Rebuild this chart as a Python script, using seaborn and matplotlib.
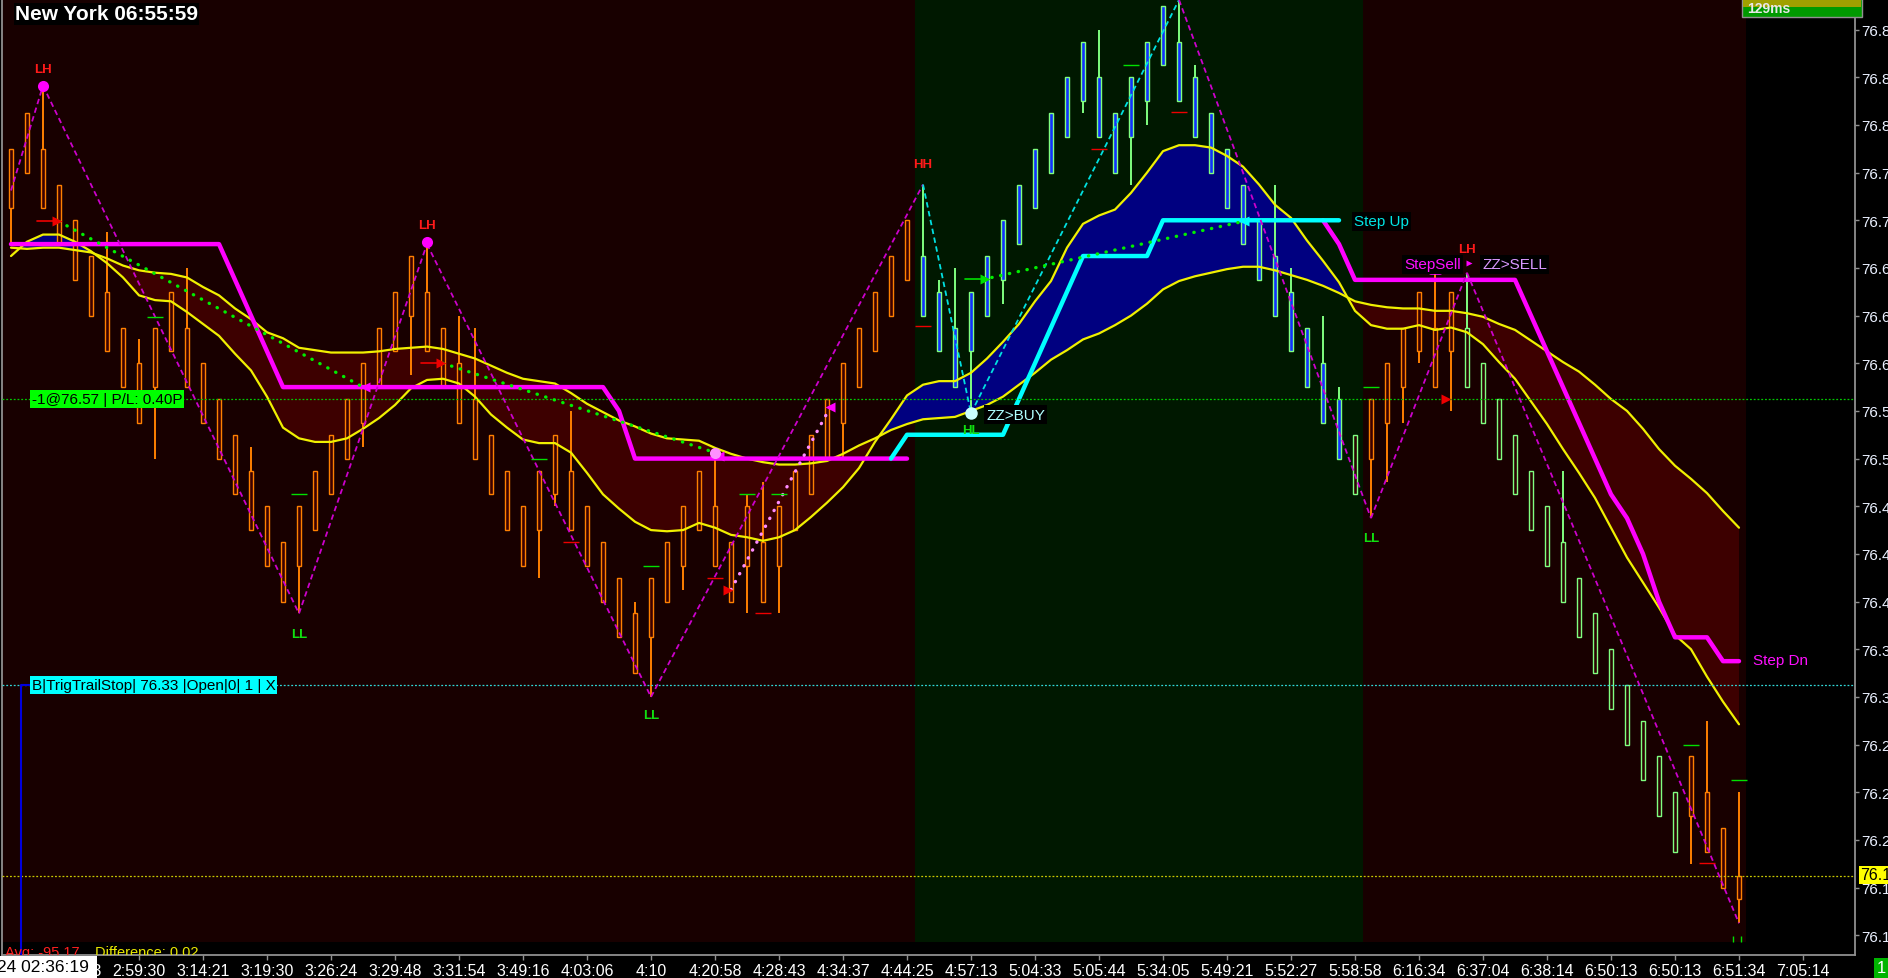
import numpy as np
import pandas as pd
import seaborn as sns
import matplotlib.pyplot as plt
from matplotlib.patches import Rectangle

nan = np.nan
W, H = 1888, 979

# ---------------- data ----------------
bars = list(range(109))

box_top = [76.78, 76.81, 76.78, 76.75, 76.72, 76.69, 76.66, 76.63, 76.60, 76.63,
           76.66, 76.63, 76.60, 76.57, 76.54, 76.51, 76.48, 76.45, 76.48, 76.51,
           76.54, 76.57, 76.60, 76.63, 76.66, 76.69, 76.66, 76.63, 76.60, 76.57,
           76.54, 76.51, 76.48, 76.51, 76.54, 76.51, 76.48, 76.45, 76.42, 76.39,
           76.42, 76.45, 76.48, 76.51, 76.48, 76.45, 76.48, 76.45, 76.48, 76.51,
           76.54, 76.57, 76.60, 76.63, 76.66, 76.69, 76.72, 76.69, 76.66, 76.63,
           76.66, 76.69, 76.72, 76.75, 76.78, 76.81, 76.84, 76.87, 76.84, 76.81,
           76.84, 76.87, 76.90, 76.87, 76.84, 76.81, 76.78, 76.75, 76.72, 76.69,
           76.66, 76.63, 76.60, 76.57, 76.54, 76.57, 76.60, 76.63, 76.66, 76.63,
           76.66, 76.63, 76.60, 76.57, 76.54, 76.51, 76.48, 76.45, 76.42, 76.39,
           76.36, 76.33, 76.30, 76.27, 76.24, 76.27, 76.24, 76.21, 76.17]
box_bottom = [76.73, 76.76, 76.73, 76.70, 76.67, 76.64, 76.61, 76.58, 76.55, 76.58,
              76.61, 76.58, 76.55, 76.52, 76.49, 76.46, 76.43, 76.40, 76.43, 76.46,
              76.49, 76.52, 76.55, 76.58, 76.61, 76.64, 76.61, 76.58, 76.55, 76.52,
              76.49, 76.46, 76.43, 76.46, 76.49, 76.46, 76.43, 76.40, 76.37, 76.34,
              76.37, 76.40, 76.43, 76.46, 76.43, 76.40, 76.43, 76.40, 76.43, 76.46,
              76.49, 76.52, 76.55, 76.58, 76.61, 76.64, 76.67, 76.64, 76.61, 76.58,
              76.61, 76.64, 76.67, 76.70, 76.73, 76.76, 76.79, 76.82, 76.79, 76.76,
              76.79, 76.82, 76.85, 76.82, 76.79, 76.76, 76.73, 76.70, 76.67, 76.64,
              76.61, 76.58, 76.55, 76.52, 76.49, 76.52, 76.55, 76.58, 76.61, 76.58,
              76.61, 76.58, 76.55, 76.52, 76.49, 76.46, 76.43, 76.40, 76.37, 76.34,
              76.31, 76.28, 76.25, 76.22, 76.19, 76.22, 76.19, 76.16, 76.15]
wick_high = [76.78, 76.81, 76.83, 76.75, 76.72, 76.69, 76.71, 76.63, 76.62, 76.63,
             76.66, 76.68, 76.60, 76.57, 76.54, 76.53, 76.48, 76.45, 76.48, 76.51,
             76.54, 76.57, 76.60, 76.63, 76.66, 76.69, 76.70, 76.63, 76.64, 76.63,
             76.54, 76.51, 76.48, 76.51, 76.54, 76.56, 76.48, 76.45, 76.42, 76.40,
             76.42, 76.45, 76.48, 76.51, 76.525, 76.45, 76.49, 76.50, 76.48, 76.51,
             76.54, 76.57, 76.60, 76.63, 76.66, 76.69, 76.72, 76.75, 76.67, 76.68,
             76.66, 76.69, 76.72, 76.75, 76.78, 76.81, 76.84, 76.87, 76.88, 76.81,
             76.84, 76.87, 76.90, 76.905, 76.85, 76.81, 76.78, 76.75, 76.72, 76.75,
             76.68, 76.63, 76.64, 76.58, 76.54, 76.57, 76.60, 76.63, 76.66, 76.675,
             76.66, 76.676, 76.60, 76.57, 76.54, 76.51, 76.48, 76.51, 76.42, 76.39,
             76.36, 76.33, 76.30, 76.27, 76.24, 76.27, 76.30, 76.21, 76.24]
wick_low = [76.70, 76.76, 76.73, 76.70, 76.67, 76.64, 76.61, 76.58, 76.55, 76.52,
            76.61, 76.58, 76.55, 76.52, 76.49, 76.46, 76.43, 76.40, 76.39, 76.46,
            76.49, 76.52, 76.53, 76.58, 76.61, 76.59, 76.61, 76.58, 76.55, 76.52,
            76.49, 76.46, 76.43, 76.42, 76.48, 76.46, 76.43, 76.40, 76.37, 76.34,
            76.32, 76.40, 76.41, 76.46, 76.43, 76.40, 76.39, 76.40, 76.39, 76.46,
            76.49, 76.52, 76.52, 76.58, 76.61, 76.64, 76.67, 76.64, 76.61, 76.58,
            76.56, 76.64, 76.65, 76.70, 76.73, 76.76, 76.79, 76.81, 76.79, 76.76,
            76.75, 76.80, 76.85, 76.82, 76.79, 76.76, 76.73, 76.70, 76.67, 76.64,
            76.61, 76.58, 76.55, 76.52, 76.49, 76.47, 76.50, 76.55, 76.60, 76.58,
            76.56, 76.58, 76.55, 76.52, 76.49, 76.46, 76.43, 76.40, 76.37, 76.34,
            76.31, 76.28, 76.25, 76.22, 76.19, 76.18, 76.19, 76.16, 76.13]
# o = orange, b = blue (up regime), g = green hollow
bar_kind = list('o' * 57 + 'b' * 27 + 'g' + 'o' * 6 + 'g' * 14 + 'o' * 4)

band_fast = [76.690, 76.702, 76.708, 76.708, 76.702, 76.694, 76.684, 76.672, 76.657, 76.653,
             76.652, 76.643, 76.633, 76.623, 76.608, 76.594, 76.572, 76.546, 76.537, 76.534,
             76.534, 76.537, 76.545, 76.554, 76.565, 76.579, 76.586, 76.587, 76.583, 76.572,
             76.557, 76.546, 76.536, 76.533, 76.533, 76.525, 76.508, 76.490, 76.478, 76.467,
             76.460, 76.459, 76.460, 76.466, 76.462, 76.456, 76.454, 76.451, 76.454, 76.460,
             76.471, 76.483, 76.496, 76.512, 76.534, 76.553, 76.573, 76.582, 76.585, 76.585,
             76.592, 76.604, 76.618, 76.633, 76.652, 76.669, 76.697, 76.717, 76.724, 76.729,
             76.743, 76.760, 76.778, 76.783, 76.783, 76.781, 76.774, 76.765, 76.750, 76.733,
             76.722, 76.703, 76.686, 76.668, 76.644, 76.632, 76.629, 76.629, 76.632, 76.628,
             76.630, 76.626, 76.616, 76.601, 76.587, 76.568, 76.549, 76.528, 76.508, 76.487,
             76.462, 76.437, 76.416, 76.395, 76.372, 76.360, 76.337, 76.316, 76.297]
band_slow = [76.697, 76.696, 76.697, 76.697, 76.695, 76.693, 76.688, 76.682, 76.678, 76.676,
             76.675, 76.672, 76.664, 76.657, 76.646, 76.637, 76.626, 76.621, 76.613, 76.611,
             76.609, 76.609, 76.609, 76.610, 76.612, 76.613, 76.614, 76.612, 76.608, 76.604,
             76.598, 76.592, 76.587, 76.585, 76.583, 76.575, 76.566, 76.559, 76.552, 76.547,
             76.541, 76.537, 76.536, 76.535, 76.529, 76.524, 76.520, 76.517, 76.515, 76.515,
             76.516, 76.518, 76.524, 76.531, 76.537, 76.544, 76.549, 76.553, 76.554, 76.555,
             76.560, 76.565, 76.572, 76.582, 76.592, 76.603, 76.611, 76.620, 76.625, 76.632,
             76.640, 76.650, 76.662, 76.669, 76.673, 76.676, 76.679, 76.681, 76.681, 76.678,
             76.674, 76.670, 76.665, 76.659, 76.652, 76.649, 76.647, 76.646, 76.646, 76.644,
             76.644, 76.642, 76.639, 76.633, 76.628, 76.619, 76.610, 76.601, 76.593, 76.582,
             76.570, 76.560, 76.545, 76.528, 76.514, 76.503, 76.491, 76.476, 76.462]

step_dn = [76.70, 76.70, 76.70, 76.70, 76.70, 76.70, 76.70, 76.70, 76.70, 76.70,
           76.70, 76.70, 76.70, 76.70, 76.67, 76.64, 76.61, 76.58, 76.58, 76.58,
           76.58, 76.58, 76.58, 76.58, 76.58, 76.58, 76.58, 76.58, 76.58, 76.58,
           76.58, 76.58, 76.58, 76.58, 76.58, 76.58, 76.58, 76.58, 76.56, 76.52,
           76.52, 76.52, 76.52, 76.52, 76.52, 76.52, 76.52, 76.52, 76.52, 76.52,
           76.52, 76.52, 76.52, 76.52, 76.52, 76.52, 76.52, nan, nan, nan,
           nan, nan, nan, nan, nan, nan, nan, nan, nan, nan,
           nan, nan, nan, nan, nan, nan, nan, nan, nan, nan,
           nan, nan, 76.72, 76.70, 76.67, 76.67, 76.67, 76.67, 76.67, 76.67,
           76.67, 76.67, 76.67, 76.67, 76.67, 76.64, 76.61, 76.58, 76.55, 76.52,
           76.49, 76.47, 76.44, 76.40, 76.37, 76.37, 76.37, 76.35, 76.35]
step_up = [nan, nan, nan, nan, nan, nan, nan, nan, nan, nan,
           nan, nan, nan, nan, nan, nan, nan, nan, nan, nan,
           nan, nan, nan, nan, nan, nan, nan, nan, nan, nan,
           nan, nan, nan, nan, nan, nan, nan, nan, nan, nan,
           nan, nan, nan, nan, nan, nan, nan, nan, nan, nan,
           nan, nan, nan, nan, nan, 76.52, 76.54, 76.54, 76.54, 76.54,
           76.54, 76.54, 76.54, 76.57, 76.60, 76.63, 76.66, 76.69, 76.69, 76.69,
           76.69, 76.69, 76.72, 76.72, 76.72, 76.72, 76.72, 76.72, 76.72, 76.72,
           76.72, 76.72, 76.72, 76.72, nan, nan, nan, nan, nan, nan,
           nan, nan, nan, nan, nan, nan, nan, nan, nan, nan,
           nan, nan, nan, nan, nan, nan, nan, nan, nan]

# zigzag swing points
zz_bar = [0, 2, 18, 26, 40, 57, 60, 73, 85, 91, 108]
zz_price = [76.745, 76.833, 76.39, 76.70, 76.32, 76.75, 76.558, 76.905, 76.47, 76.676, 76.13]
zz_seg_kind = ['m', 'm', 'm', 'm', 'm', 'c', 'c', 'm', 'm', 'm']
swing_label = ['LH', 'LL', 'LH', 'LL', 'HH', 'HL', 'LL', 'LH']
swing_label_bar = [2, 18, 26, 40, 57, 60, 85, 91]
swing_label_price = [76.847, 76.373, 76.716, 76.305, 76.767, 76.544, 76.453, 76.696]

# dotted trend lines
green_trends = [([3, 22], [76.719, 76.58]), ([27, 44], [76.60, 76.525]), ([61.3, 77], [76.672, 76.719])]
pink_trend = ([45, 51.2], [76.41, 76.563])

# small level dashes
green_dash_bar = [9, 18, 33, 40, 46, 48, 70, 85, 105, 108]
green_dash_price = [76.639, 76.490, 76.520, 76.430, 76.490, 76.490, 76.850, 76.580, 76.280, 76.250]
red_dash_bar = [35, 44, 47, 57, 68, 73, 106]
red_dash_price = [76.450, 76.420, 76.390, 76.631, 76.780, 76.811, 76.181]

# red entry arrows (line from -> to, triangle at to)
arrow_from = [1.6, 25.6, 44.8, 89.7]
arrow_to = [2.9, 26.9, 44.8, 89.7]
arrow_price = [76.719, 76.600, 76.410, 76.570]
left_tri_bar = [22.1, 44.25, 51.2, 77.05]
left_tri_price = [76.580, 76.522, 76.563, 76.719]
left_tri_color = ['#ff00ff', '#ff00ff', '#ff00ff', '#00ffff']

time_ticks = list(range(4, 113, 4))
time_labels = ['2:45:53', '2:59:30', '3:14:21', '3:19:30', '3:26:24', '3:29:48', '3:31:54',
               '3:49:16', '4:03:06', '4:10', '4:20:58', '4:28:43', '4:34:37', '4:44:25',
               '4:57:13', '5:04:33', '5:05:44', '5:34:05', '5:49:21', '5:52:27', '5:58:58',
               '6:16:34', '6:37:04', '6:38:14', '6:50:13', '6:50:13', '6:51:34', '7:05:14']
price_ticks = [76.12, 76.16, 76.20, 76.24, 76.28, 76.32, 76.36, 76.40, 76.44, 76.48,
               76.52, 76.56, 76.60, 76.64, 76.68, 76.72, 76.76, 76.80, 76.84, 76.88]

# ---------------- drawing ----------------
sns.set_style('dark', {'axes.facecolor': 'black', 'figure.facecolor': 'black'})
plt.rcParams['font.family'] = ['Liberation Sans', 'DejaVu Sans']

fig = plt.figure(figsize=(W / 100, H / 100), dpi=100)
fig.patch.set_facecolor('black')
ax = fig.add_axes([2 / W, 23 / H, 1853 / W, 956 / H])
ax.set_facecolor('black')

# regime backgrounds
for x0, x1, col in [(-0.6, 56.5, '#180000'), (56.5, 84.5, '#001800'), (84.5, 108.45, '#180000')]:
    ax.axvspan(x0, x1, ymin=13 / 956, ymax=1, color=col, lw=0, zorder=0)

fast = np.array(band_fast)
slow = np.array(band_slow)
ax.fill_between(bars, fast, slow, where=fast >= slow, interpolate=True, color='#000080', lw=0, zorder=1)
ax.fill_between(bars, fast, slow, where=fast < slow, interpolate=True, color='#3d0000', lw=0, zorder=1)

# candles
face = {'o': '#3a0000', 'b': '#1030ff', 'g': '#2a0000'}
edge = {'o': '#ff8000', 'b': '#80ff80', 'g': '#80ff80'}
ax.vlines(bars, wick_low, wick_high, colors=[edge[k] for k in bar_kind], lw=1.4, zorder=3)
ax.bar(bars, np.array(box_top) - np.array(box_bottom), bottom=box_bottom, width=0.24,
       color=[face[k] for k in bar_kind], edgecolor=[edge[k] for k in bar_kind], linewidth=1.0, zorder=3.5)

# yellow bands
bands = pd.DataFrame({'bar': bars, 'fast': band_fast, 'slow': band_slow})
sns.lineplot(data=bands, x='bar', y='fast', ax=ax, color='#f0f000', lw=1.6, estimator=None, zorder=4)
sns.lineplot(data=bands, x='bar', y='slow', ax=ax, color='#f0f000', lw=1.6, estimator=None, zorder=4)

# reference levels
ax.axhline(76.57, color='#00c800', lw=0.9, ls=(0, (1.5, 1.5)), zorder=6)
ax.axhline(76.33, color='#30d8d8', lw=0.9, ls=(0, (1.5, 1.5)), zorder=6)
ax.axhline(76.17, color='#c8c800', lw=0.9, ls=(0, (1.5, 1.5)), zorder=6)

# step lines
ax.plot(bars, step_dn, color='#ff00ff', lw=3.2, zorder=5)
ax.plot(bars, step_up, color='#00ffff', lw=3.2, zorder=5)

# zigzag
for i, k in enumerate(zz_seg_kind):
    ax.plot(zz_bar[i:i + 2], zz_price[i:i + 2], color='#cc00cc' if k == 'm' else '#00e0e0',
            lw=1.3, ls=(0, (3, 2)), zorder=6)

for xs, ys in green_trends:
    ax.plot(xs, ys, color='#00ee00', lw=2.4, ls=(0, (0.1, 2.6)), dash_capstyle='round', zorder=6)
ax.plot(pink_trend[0], pink_trend[1], color='#ff8cff', lw=2.4, ls=(0, (0.1, 2.6)),
        dash_capstyle='round', zorder=6)

ax.hlines(green_dash_price, np.array(green_dash_bar) - 0.5, np.array(green_dash_bar) + 0.5,
          color='#00e000', lw=1.0, zorder=6)
ax.hlines(red_dash_price, np.array(red_dash_bar) - 0.5, np.array(red_dash_bar) + 0.5,
          color='#ee0000', lw=1.0, zorder=6)

for a, b, p in zip(arrow_from, arrow_to, arrow_price):
    ax.plot([a, b], [p, p], color='#ee0000', lw=1.2, zorder=7)
    ax.plot(b, p, '>', color='#ee0000', ms=7, mec='none', zorder=7)
ax.plot([59.6, 60.9], [76.671, 76.671], color='#00e000', lw=1.2, zorder=7)
ax.plot(60.9, 76.671, '>', color='#00e000', ms=7, mec='none', zorder=7)
for b, p, c in zip(left_tri_bar, left_tri_price, left_tri_color):
    ax.plot(b, p, '<', color=c, ms=7, mec='none', zorder=7)

ax.plot([2, 26], [76.833, 76.702], 'o', color='#ff00ff', ms=8, mec='none', zorder=7)
ax.plot(44, 76.525, 'o', color='#ff90ff', ms=8, mec='none', zorder=7)
ax.plot(60, 76.558, 'o', color='#c8ffff', ms=9, mec='none', zorder=7)
ax.plot([88.75, 89.3], [76.677, 76.677], color='#ff00ff', lw=4, zorder=7)
ax.plot(91.1, 76.684, '>', color='#ff00ff', ms=5, mec='none', zorder=7)
ax.plot([107.6, 108.1], [76.117, 76.117], '|', color='#00e000', ms=4, zorder=7)

# blue stop bracket
ax.plot([1.2, 0.6, 0.6], [76.33, 76.33, 76.10], color='#0000dd', lw=1.5, zorder=6)

for lab, b, p in zip(swing_label, swing_label_bar, swing_label_price):
    ax.text(b, p, lab, color='#ff1a1a' if lab.startswith(('LH', 'HH')) else '#10e010',
            fontsize=9.5, fontweight='bold', ha='center', va='center', zorder=8)

box = dict(fc='black', ec='none', pad=1.5)
ax.text(60.95, 76.557, 'ZZ>BUY', color='#b0ffff', fontsize=11, va='center', bbox=box, zorder=8)
ax.text(83.95, 76.719, 'Step Up', color='#00e5e5', fontsize=11, va='center', bbox=box, zorder=8)
ax.text(87.1, 76.683, 'StepSell', color='#ff10ff', fontsize=11, va='center', bbox=box, zorder=8)
ax.text(91.95, 76.683, 'ZZ>SELL', color='#d898ff', fontsize=11, va='center', bbox=box, zorder=8)
ax.text(108.9, 76.351, 'Step Dn', color='#ff10ff', fontsize=11, va='center', zorder=8)
ax.text(1.3, 76.57, '-1@76.57 | P/L: 0.40P', color='black', fontsize=11, va='center',
        bbox=dict(fc='#00ff00', ec='none', pad=1.2), zorder=9)
ax.text(1.3, 76.33, 'B|TrigTrailStop| 76.33 |Open|0| 1 | X', color='black', fontsize=11, va='center',
        bbox=dict(fc='#00ffff', ec='none', pad=1.2), zorder=9)

ax.text(3 / 1853, (956 - 957) / 956, 'Avg: -95.17', color='#ff2020', fontsize=10.5,
        va='baseline', transform=ax.transAxes, clip_on=True, zorder=9)
ax.text(93 / 1853, (956 - 957) / 956, 'Difference: 0.02', color='#e8e800', fontsize=10.5,
        va='baseline', transform=ax.transAxes, clip_on=True, zorder=9)

# axes cosmetics
ax.set_xlim(-0.5625, 115.25)
ax.set_ylim(76.1034, 76.9057)
ax.set_xlabel('')
ax.set_ylabel('')
ax.grid(False)
ax.yaxis.tick_right()
ax.set_yticks(price_ticks)
ax.set_yticklabels([f'{v:.2f}' for v in price_ticks])
ax.set_xticks(time_ticks)
ax.set_xticklabels(time_labels)
ax.tick_params(axis='y', direction='out', length=3, width=1, color='#909090',
               labelcolor='#eaf0ff', labelsize=11, pad=1.5, right=True, left=False)
ax.tick_params(axis='x', direction='out', length=3.5, width=1, color='#909090',
               labelcolor='white', labelsize=11.5, pad=2, bottom=True)
for s in ['right', 'bottom', 'left']:
    ax.spines[s].set_visible(True)
    ax.spines[s].set_color('#909090')
    ax.spines[s].set_linewidth(1.3)
ax.spines['top'].set_visible(False)

# figure overlays
fig.text(15 / W, 1 - 15 / H, 'New York 06:55:59', color='white', fontsize=15, fontweight='bold',
         va='center', ha='left', bbox=dict(fc='black', ec='none', pad=1))
fig.text(-3 / W, 1 - 968 / H, '24 02:36:19 ', color='black', fontsize=12.5, va='center', ha='left',
         bbox=dict(fc='white', ec='none', pad=2.5))
fig.text(1860 / W, 1 - 876 / H, '76.17', color='black', fontsize=11.5, va='center', ha='left',
         bbox=dict(fc='#ffff00', ec='none', pad=1))
fig.text(1877 / W, 1 - 969 / H, '1', color='white', fontsize=12, va='center', ha='left',
         bbox=dict(fc='#00b400', ec='none', pad=2))
fig.add_artist(Rectangle((1742 / W, 1 - 18 / H), 120 / W, 18 / H, transform=fig.transFigure,
                         fc='#009a00', ec='#909090', lw=1))
fig.add_artist(Rectangle((1743 / W, 1 - 8 / H), 118 / W, 7 / H, transform=fig.transFigure,
                         fc='#a0a000', ec='none'))
fig.text(1747 / W, 1 - 9 / H, '129ms', color='#e8e8e8', fontsize=10, fontweight='bold',
         va='center', ha='left')

fig.savefig('out.png', dpi=100, facecolor='black')
